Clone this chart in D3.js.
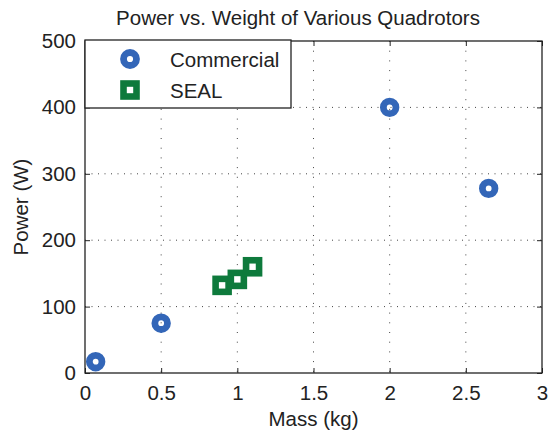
<!DOCTYPE html>
<html>
<head>
<meta charset="utf-8">
<script src="https://cdn.jsdelivr.net/npm/d3@7"></script>
<style>
  body { margin: 0; background: #fff; }
  text { font-family: "Liberation Sans", Arial, sans-serif; fill: #222; }
</style>
</head>
<body>
<div id="container"></div>
<script>
    // Data
    const commercialMass = [0.07, 0.5, 2.0, 2.65];
    const commercialPower = [17, 75, 400, 278];
    const sealMass = [0.9, 1.0, 1.1];
    const sealPower = [132, 141, 160];
    const xTicks = [0, 0.5, 1, 1.5, 2, 2.5, 3];
    const yTicks = [0, 100, 200, 300, 400, 500];

    const width = 551, height = 430;
    const margin = {left: 85, right: 9, top: 41, bottom: 57};
    const w = width - margin.left - margin.right;
    const h = height - margin.top - margin.bottom;
    const fs = "20.5px";

    const svg = d3.select("#container").append("svg")
        .attr("width", width)
        .attr("height", height);

    const x = d3.scaleLinear().domain([0, 3]).range([0, w]);
    const y = d3.scaleLinear().domain([0, 500]).range([h, 0]);

    const g = svg.append("g")
        .attr("transform", "translate(" + margin.left + "," + margin.top + ")");

    // Dotted grid
    g.append("g").selectAll("line")
        .data(xTicks.slice(1, -1))
        .enter().append("line")
        .attr("x1", d => x(d)).attr("x2", d => x(d))
        .attr("y1", 0).attr("y2", h)
        .attr("stroke", "#444").attr("stroke-width", 1)
        .attr("stroke-dasharray", "1,8.7");
    g.append("g").selectAll("line")
        .data(yTicks.slice(1, -1))
        .enter().append("line")
        .attr("y1", d => y(d)).attr("y2", d => y(d))
        .attr("x1", 0).attr("x2", w)
        .attr("stroke", "#444").attr("stroke-width", 1)
        .attr("stroke-dasharray", "1,5.5");

    // Axes (inward ticks, box all round)
    const fmt = d3.format("");
    g.append("g")
        .attr("transform", "translate(0," + h + ")")
        .call(d3.axisBottom(x).tickValues(xTicks).tickSize(-5).tickPadding(12).tickFormat(fmt))
        .call(a => a.select(".domain").remove())
        .call(a => a.selectAll("text").attr("font-size", fs).attr("font-family", "Liberation Sans, Arial, sans-serif").attr("fill", "#222"));
    g.append("g")
        .call(d3.axisTop(x).tickValues(xTicks).tickSize(-5).tickFormat(""))
        .call(a => a.select(".domain").remove());
    g.append("g")
        .call(d3.axisLeft(y).tickValues(yTicks).tickSize(-5).tickPadding(9))
        .call(a => a.select(".domain").remove())
        .call(a => a.selectAll("text").attr("font-size", fs).attr("font-family", "Liberation Sans, Arial, sans-serif").attr("fill", "#222"));
    g.append("g")
        .attr("transform", "translate(" + w + ",0)")
        .call(d3.axisRight(y).tickValues(yTicks).tickSize(-5).tickFormat(""))
        .call(a => a.select(".domain").remove());
    g.selectAll(".tick line").attr("stroke", "#222");

    g.append("rect")
        .attr("width", w).attr("height", h)
        .attr("fill", "none").attr("stroke", "#222").attr("stroke-width", 1.3);

    // Commercial markers: thick ring
    g.selectAll(".comm")
        .data(commercialMass.map((m, i) => ({m: m, p: commercialPower[i]})))
        .enter().append("circle")
        .attr("class", "comm")
        .attr("cx", d => x(d.m)).attr("cy", d => y(d.p))
        .attr("r", 6.3)
        .attr("fill", "none").attr("stroke", "#3366b8").attr("stroke-width", 6.8);

    // SEAL markers: thick hollow square
    const sq = 13;
    g.selectAll(".seal")
        .data(sealMass.map((m, i) => ({m: m, p: sealPower[i]})))
        .enter().append("rect")
        .attr("class", "seal")
        .attr("x", d => x(d.m) - sq / 2).attr("y", d => y(d.p) - sq / 2)
        .attr("width", sq).attr("height", sq)
        .attr("fill", "none").attr("stroke", "#0e7a3c").attr("stroke-width", 6.6);

    // Legend
    const lg = g.append("g");
    lg.append("rect")
        .attr("x", 0).attr("y", -1).attr("width", 206).attr("height", 68)
        .attr("fill", "#fff").attr("stroke", "#222").attr("stroke-width", 1.3);
    lg.append("circle")
        .attr("cx", 45).attr("cy", 18).attr("r", 6.5)
        .attr("fill", "none").attr("stroke", "#3366b8").attr("stroke-width", 6.8);
    lg.append("rect")
        .attr("x", 45 - sq / 2).attr("y", 49 - sq / 2).attr("width", sq).attr("height", sq)
        .attr("fill", "none").attr("stroke", "#0e7a3c").attr("stroke-width", 6.6);
    lg.append("text").attr("x", 85).attr("y", 25.5).attr("font-size", fs).text("Commercial");
    lg.append("text").attr("x", 85).attr("y", 56.5).attr("font-size", fs).text("SEAL");

    // Titles
    svg.append("text")
        .attr("x", 298).attr("y", 25)
        .attr("text-anchor", "middle").attr("font-size", fs)
        .text("Power vs. Weight of Various Quadrotors");
    svg.append("text")
        .attr("x", margin.left + w / 2).attr("y", 426)
        .attr("text-anchor", "middle").attr("font-size", fs)
        .text("Mass (kg)");
    svg.append("text")
        .attr("transform", "translate(28," + (margin.top + h / 2) + ") rotate(-90)")
        .attr("text-anchor", "middle").attr("font-size", fs)
        .text("Power (W)");
</script>
</body>
</html>
